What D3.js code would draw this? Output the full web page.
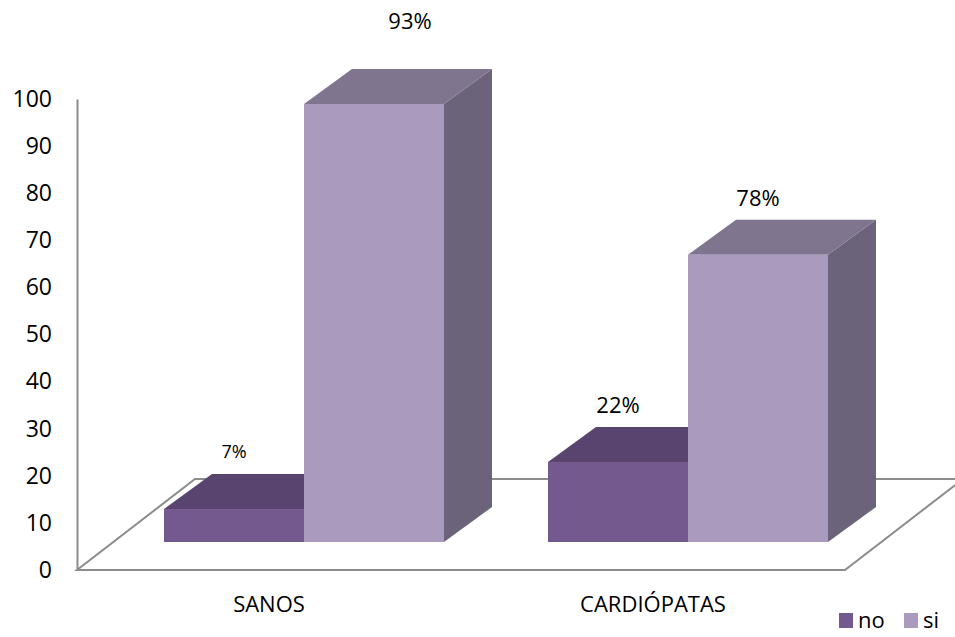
<!DOCTYPE html>
<html>
<head>
<meta charset="utf-8">
<script src="https://cdn.jsdelivr.net/npm/d3@7"></script>
<style>
  html, body { margin: 0; padding: 0; background: #fff; }
  svg text { font-family: "Open Sans", "Liberation Sans", sans-serif; fill: #000; }
</style>
</head>
<body>
<svg id="chart" width="955" height="637"></svg>
<script>
// Group names, series names and counts per group
const categories = ["SANOS", "CARDIÓPATAS"];
const seriesNames = ["no", "si"];
const noValues = [7, 17];
const siValues = [93, 61];
const yTicks = [0, 10, 20, 30, 40, 50, 60, 70, 80, 90, 100];

// Face colours per series: front, top, side
const faceColors = {
  no: { front: "#73598E", top: "#58446E", side: "#4a3a5e" },
  si: { front: "#A99ABE", top: "#7F758F", side: "#6B637A" }
};

const svg = d3.select("#chart");
const W = 955, H = 637;

// Floor geometry: front edge along the category axis, back edge shifted by depth
const floorLeft = 77, floorRight = 845, floorFrontY = 570;
const depthVec = [118, -91];          // full floor depth
const barFrontShift = [35, -28];      // bars stand partway into the floor
const barDepth = [48, -35];           // thickness of each 3D bar

const y = d3.scaleLinear().domain([0, 100]).range([floorFrontY, 99]);
const x = d3.scaleBand().domain(categories).range([floorLeft, floorRight]).padding(0);
const barW = 140;
const xs = d3.scaleBand().domain(seriesNames).range([0, 2 * barW]).padding(0);

const lineColor = "#8c8c8c";

// Floor outline
const floorPts = [
  [floorLeft, floorFrontY],
  [floorRight, floorFrontY],
  [floorRight + depthVec[0], floorFrontY + depthVec[1]],
  [floorLeft + depthVec[0], floorFrontY + depthVec[1]]
];
svg.append("polygon")
  .attr("points", floorPts.map(p => p.join(",")).join(" "))
  .attr("fill", "#fff")
  .attr("stroke", lineColor)
  .attr("stroke-width", 2)
  .attr("stroke-linejoin", "miter");

// Value axis
const yAxis = d3.axisLeft(y).tickValues(yTicks).tickSizeInner(0).tickSizeOuter(0).tickPadding(25);
const gy = svg.append("g").attr("transform", `translate(${floorLeft},0)`).call(yAxis);
gy.select(".domain").attr("stroke", lineColor).attr("stroke-width", 2);
gy.selectAll(".tick text")
  .attr("font-size", 23)
  .attr("font-family", '"Open Sans", sans-serif')
  .attr("fill", "#000");

// Category labels
svg.selectAll("text.cat")
  .data(categories)
  .enter().append("text")
  .attr("class", "cat")
  .attr("x", d => x(d) + x.bandwidth() / 2)
  .attr("y", 612)
  .attr("text-anchor", "middle")
  .attr("font-size", 22)
  .text(d => d);

// Bars
const bars = [];
categories.forEach((c, i) => {
  const total = noValues[i] + siValues[i];
  [["no", noValues[i]], ["si", siValues[i]]].forEach(([s, v]) => {
    bars.push({ cat: c, series: s, value: v, pct: Math.round(v / total * 100) });
  });
});

function poly(points) { return points.map(p => p.join(",")).join(" "); }

const gBars = svg.append("g");
bars.forEach(b => {
  const bandCenter = x(b.cat) + x.bandwidth() / 2;
  const x0 = bandCenter - barW + xs(b.series) + barFrontShift[0];
  const x1 = x0 + xs.bandwidth();
  const yBase = y(0) + barFrontShift[1];
  const yTop = yBase - (y(0) - y(b.value));
  const [dx, dy] = barDepth;
  const col = faceColors[b.series];
  const g = gBars.append("g");
  // right side
  g.append("polygon")
    .attr("points", poly([[x1, yTop], [x1 + dx, yTop + dy], [x1 + dx, yBase + dy], [x1, yBase]]))
    .attr("fill", col.side);
  // top
  g.append("polygon")
    .attr("points", poly([[x0, yTop], [x0 + dx, yTop + dy], [x1 + dx, yTop + dy], [x1, yTop]]))
    .attr("fill", col.top);
  // front
  g.append("rect")
    .attr("x", x0).attr("y", yTop)
    .attr("width", x1 - x0).attr("height", yBase - yTop)
    .attr("fill", col.front);
  b.labelX = (x0 + x1) / 2;
  b.labelY = yTop + dy - 23;
});

// Percentage labels; the tallest label is lifted clear of the bar top
bars.forEach(b => {
  let lx = b.labelX, ly = b.labelY;
  const big = b.pct >= 10;
  if (b.pct > 90) { lx += 36; ly -= 26; }
  svg.append("text")
    .attr("x", lx)
    .attr("y", ly)
    .attr("text-anchor", "middle")
    .attr("dominant-baseline", "central")
    .attr("font-size", big ? 22 : 18)
    .text(b.pct + "%");
});

// Legend
const legend = svg.append("g");
const legendX = [839, 904];
seriesNames.forEach((s, i) => {
  legend.append("rect")
    .attr("x", legendX[i]).attr("y", 613)
    .attr("width", 14).attr("height", 15)
    .attr("fill", faceColors[s].front);
  legend.append("text")
    .attr("x", legendX[i] + 19).attr("y", 628)
    .attr("font-size", 22)
    .text(s);
});
</script>
</body>
</html>
